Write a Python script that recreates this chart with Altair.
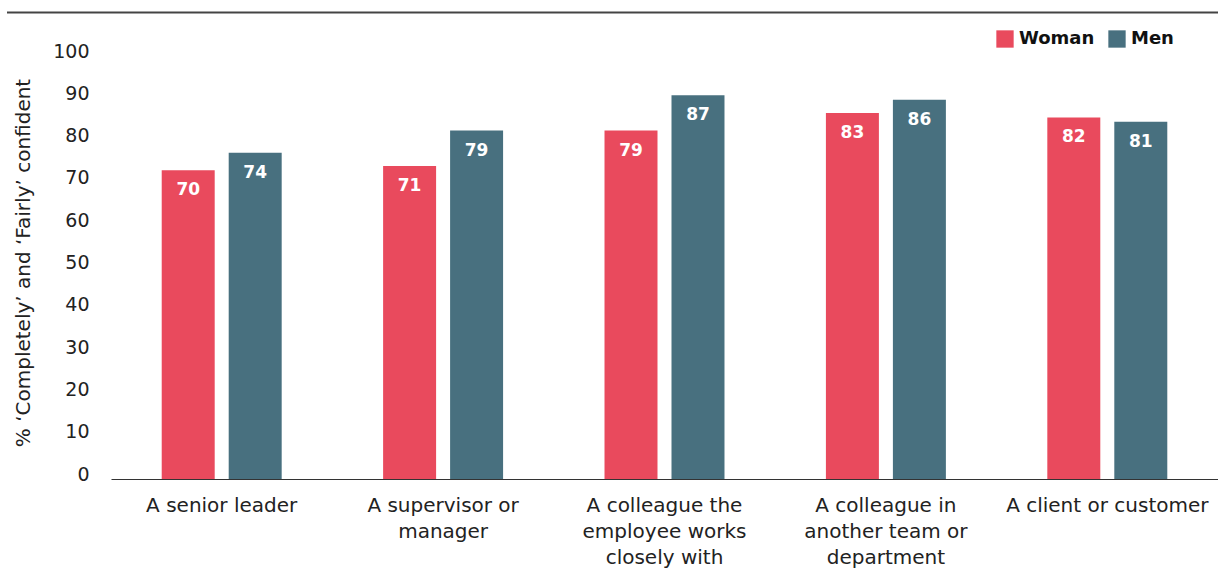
import altair as alt
import pandas as pd

categories = [
    "A senior leader",
    "A supervisor or manager",
    "A colleague the employee works closely with",
    "A colleague in another team or department",
    "A client or customer",
]
category_lines = [
    ["A senior leader"],
    ["A supervisor or", "manager"],
    ["A colleague the", "employee works", "closely with"],
    ["A colleague in", "another team or", "department"],
    ["A client or customer"],
]
groups = ["Woman", "Men"]
woman_values = [70, 71, 79, 83, 82]
men_values = [74, 79, 87, 86, 81]
y_ticks = [0, 10, 20, 30, 40, 50, 60, 70, 80, 90, 100]
colors = ["#E94A5D", "#48707F"]
y_title = "% \u2018Completely\u2019 and \u2018Fairly\u2019 confident"

FONT = "DejaVu Sans"

rows = []
for cat, lines, w, m in zip(categories, category_lines, woman_values, men_values):
    lab = "|".join(lines)
    rows.append({"category": lab, "group": "Woman", "value": w})
    rows.append({"category": lab, "group": "Men", "value": m})
df = pd.DataFrame(rows)
cat_order = ["|".join(l) for l in category_lines]

x_enc = alt.X(
    "category:N",
    sort=cat_order,
    scale=alt.Scale(paddingInner=0, paddingOuter=0),
    axis=alt.Axis(
        title=None,
        labelExpr="split(datum.label, '|')",
        labelAngle=0,
        labelFont=FONT,
        labelFontSize=20,
        labelColor="#222222",
        labelLineHeight=26,
        labelBaseline="top",
        labelPadding=16,
        ticks=False,
        tickSize=0,
        domain=True,
        domainColor="#333333",
        domainWidth=1.2,
        grid=False,
        labelLimit=300,
    ),
)
xoff = alt.XOffset(
    "group:N",
    sort=groups,
    scale=alt.Scale(paddingInner=0.209, paddingOuter=0.757),
)
y_bar = alt.Y("value:Q", scale=alt.Scale(domain=[0, 100]), axis=None)

bars = alt.Chart(df).mark_bar().encode(
    x=x_enc,
    xOffset=xoff,
    y=y_bar,
    color=alt.Color(
        "group:N",
        sort=groups,
        scale=alt.Scale(domain=groups, range=colors),
        legend=alt.Legend(
            title=None,
            orient="none",
            legendX=885,
            legendY=-8,
            direction="horizontal",
            symbolType="square",
            symbolSize=300,
            symbolStrokeWidth=0,
            symbolOpacity=1,
            labelFont=FONT,
            labelFontSize=18,
            labelFontWeight="bold",
            labelColor="#111111",
            labelOffset=5,
            columnPadding=13,
            padding=0,
        ),
    ),
)

labels = alt.Chart(df).mark_text(
    font=FONT, fontSize=17, fontWeight="bold", color="white", baseline="middle", dy=20
).encode(
    x=alt.X("category:N", sort=cat_order),
    xOffset=alt.XOffset("group:N", sort=groups),
    y=alt.Y("value:Q", scale=alt.Scale(domain=[0, 100]), axis=None),
    text=alt.Text("value:Q"),
)

bar_layer = alt.layer(bars, labels)

axis_df = pd.DataFrame({"tick": y_ticks})
axis_layer = alt.Chart(axis_df).mark_point(opacity=0).encode(
    y=alt.Y(
        "tick:Q",
        scale=alt.Scale(domain=[0, 100], range=[436, 13], nice=False),
        axis=alt.Axis(
            orient="left",
            title=y_title,
            values=y_ticks,
            labelFont=FONT,
            labelFontSize=19,
            labelColor="#222222",
            labelPadding=22,
            ticks=False,
            tickSize=0,
            domain=False,
            grid=False,
            titleFont=FONT,
            titleFontSize=20,
            titleFontWeight="normal",
            titleColor="#222222",
            titlePadding=19,
        ),
    ),
)

top_rule = alt.Chart(pd.DataFrame({"a": [0]})).mark_rule(
    color="#444444", strokeWidth=2
).encode(x=alt.value(-104), x2=alt.value(1107), y=alt.value(-25.5))

chart = (
    alt.layer(bar_layer, axis_layer, top_rule)
    .resolve_scale(y="independent")
    .properties(
        width=1107,
        height=441,
        padding={"left": 111, "top": 38, "right": 0, "bottom": 91},
        autosize=alt.AutoSizeParams(type="none"),
        background="white",
    )
    .configure_view(stroke=None, strokeWidth=0)
)

chart.save("out.html", embed_options={"renderer": "svg", "actions": False})
